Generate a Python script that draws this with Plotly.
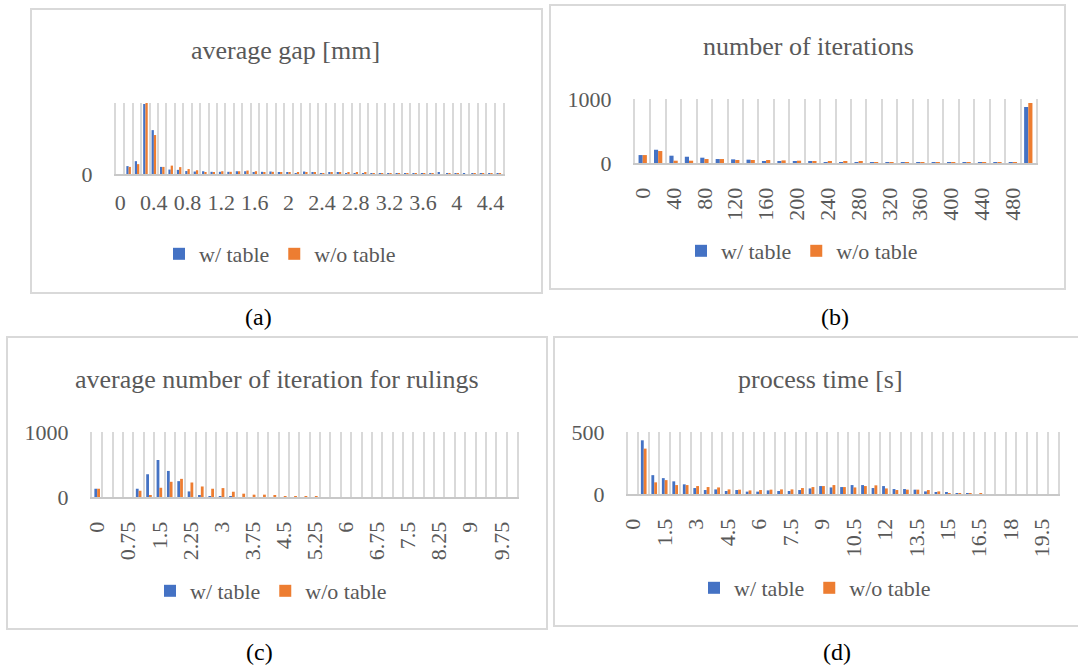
import plotly.graph_objects as go

W, H = 1078, 665
BLUE = "#4472C4"
ORANGE = "#ED7D31"
GRID = "#d9d9d9"
AXIS = "#c8c8c8"
TXT = "#595959"
FONT = "Liberation Serif"

# ---------------- data ----------------
gap_cats = ["0", "0.1", "0.2", "0.3", "0.4", "0.5", "0.6", "0.7", "0.8", "0.9",
            "1", "1.1", "1.2", "1.3", "1.4", "1.5", "1.6", "1.7", "1.8", "1.9",
            "2", "2.1", "2.2", "2.3", "2.4", "2.5", "2.6", "2.7", "2.8", "2.9",
            "3", "3.1", "3.2", "3.3", "3.4", "3.5", "3.6", "3.7", "3.8", "3.9",
            "4", "4.1", "4.2", "4.3", "4.4", "4.5"]
gap_with = [0, 80, 130, 710, 445, 72, 45, 42, 30, 25, 28, 22, 22, 22, 28, 28,
            18, 22, 25, 20, 15, 10, 25, 12, 5, 12, 12, 5, 8, 5, 5, 2, 5, 8, 8,
            5, 5, 5, 12, 2, 2, 5, 2, 5, 2, 2]
gap_without = [0, 72, 100, 720, 395, 72, 85, 70, 50, 38, 20, 20, 28, 22, 28, 35,
               28, 20, 22, 15, 12, 20, 18, 12, 5, 12, 12, 18, 12, 12, 5, 5, 5, 5,
               2, 5, 5, 2, 0, 2, 2, 0, 2, 5, 2, 2]

iter_cats = ["0", "20", "40", "60", "80", "100", "120", "140", "160", "180",
             "200", "220", "240", "260", "280", "300", "320", "340", "360", "380",
             "400", "420", "440", "460", "480", "500"]
iter_with = [124, 207, 114, 98, 83, 62, 57, 52, 21, 31, 21, 21, 5, 5, 5, 5, 5, 5,
             5, 2, 2, 2, 2, 1, 1, 875]
iter_without = [124, 187, 36, 36, 62, 62, 47, 47, 47, 41, 36, 21, 21, 21, 21, 5, 5,
                5, 5, 2, 5, 2, 2, 1, 1, 938]

rul_cats = ["0", "0.25", "0.5", "0.75", "1", "1.25", "1.5", "1.75", "2", "2.25",
            "2.5", "2.75", "3", "3.25", "3.5", "3.75", "4", "4.25", "4.5", "4.75",
            "5", "5.25", "5.5", "5.75", "6", "6.25", "6.5", "6.75", "7", "7.25",
            "7.5", "7.75", "8", "8.25", "8.5", "8.75", "9", "9.25", "9.5", "9.75", "10"]
rul_with = [127, 0, 0, 0, 127, 350, 569, 401, 244, 86, 20, 15, 5, 5, 0, 0, 0, 0, 0,
            0, 0, 0, 0, 0, 0, 0, 0, 0, 0, 0, 0, 0, 0, 0, 0, 0, 0, 0, 0, 0, 0]
rul_without = [127, 0, 0, 0, 96, 30, 142, 234, 279, 223, 162, 127, 137, 81, 51, 36,
               36, 25, 5, 5, 3, 3, 0, 0, 0, 0, 0, 0, 0, 0, 0, 0, 0, 0, 0, 0, 0, 0,
               0, 0, 0]

time_cats = ["0", "0.5", "1", "1.5", "2", "2.5", "3", "3.5", "4", "4.5", "5", "5.5",
             "6", "6.5", "7", "7.5", "8", "8.5", "9", "9.5", "10", "10.5", "11",
             "11.5", "12", "12.5", "13", "13.5", "14", "14.5", "15", "15.5", "16",
             "16.5", "17", "17.5", "18", "18.5", "19", "19.5", "20"]
time_with = [0, 433, 152, 128, 102, 78, 48, 32, 37, 24, 32, 19, 19, 29, 24, 24, 32,
             45, 64, 53, 56, 72, 72, 48, 64, 40, 40, 35, 21, 13, 13, 5, 8, 0, 0, 0,
             0, 0, 0, 0, 0]
time_without = [0, 366, 94, 112, 72, 72, 64, 56, 53, 37, 35, 29, 32, 35, 37, 37, 48,
                56, 64, 72, 56, 53, 64, 70, 45, 32, 35, 35, 32, 21, 5, 8, 5, 8, 0, 0,
                0, 0, 0, 0, 0]

series_names = ["w/ table", "w/o table"]
titles = ["average gap [mm]", "number of iterations",
          "average number of iteration for rulings", "process time [s]"]
captions = ["(a)", "(b)", "(c)", "(d)"]

# ---------------- layout geometry (pixels) ----------------
panels = [
    dict(cats=gap_cats, w=gap_with, wo=gap_without, step=4, angle=0,
         plot=(116, 103, 503, 174), ymax=720, yt=[0], hgrid=False,
         tpos=(285, 50), leg=(280, 254), box=(31, 9, 542, 293), cpos=(258, 317)),
    dict(cats=iter_cats, w=iter_with, wo=iter_without, step=2, angle=-90,
         plot=(635, 99, 1036, 163), ymax=1000, yt=[0, 1000], hgrid=True,
         tpos=(808, 46), leg=(802, 251), box=(550, 5, 1065, 289), cpos=(835, 317)),
    dict(cats=rul_cats, w=rul_with, wo=rul_without, step=3, angle=-90,
         plot=(92, 432, 517, 497), ymax=1000, yt=[0, 1000], hgrid=True,
         tpos=(277, 379), leg=(271, 591), box=(7, 337, 547, 629), cpos=(259, 652)),
    dict(cats=time_cats, w=time_with, wo=time_without, step=3, angle=-90,
         plot=(628, 432, 1058, 494), ymax=500, yt=[0, 500], hgrid=True,
         tpos=(820, 379), leg=(815, 588), box=(554, 337, 1082, 626), cpos=(837, 652)),
]


def fx(x):
    return x / W


def fy(y):
    return 1 - y / H


fig = go.Figure()
layout = {}
annotations = []
shapes = []

for k, p in enumerate(panels):
    n = k + 1
    xa = "x" if n == 1 else f"x{n}"
    ya = "y" if n == 1 else f"y{n}"
    lg = "legend" if n == 1 else f"legend{n}"
    idx = list(range(len(p["cats"])))
    for vals, name, col in [(p["w"], series_names[0], BLUE),
                            (p["wo"], series_names[1], ORANGE)]:
        fig.add_trace(go.Bar(x=idx, y=vals, name=name, marker_color=col,
                             marker_line_width=0, xaxis=xa, yaxis=ya, legend=lg,
                             hoverinfo="skip"))
    x0, y0, x1, y1 = p["plot"]
    xkey = "xaxis" if n == 1 else f"xaxis{n}"
    ykey = "yaxis" if n == 1 else f"yaxis{n}"
    layout[xkey] = dict(
        domain=[fx(x0), fx(x1)], anchor=ya, range=[-0.5, len(idx) - 0.5],
        tickmode="array", tickvals=idx[::p["step"]], ticktext=p["cats"][::p["step"]],
        tickangle=p["angle"], showgrid=False, zeroline=False, automargin=False,
        showline=True, linecolor=AXIS, linewidth=2,
        ticks="outside", ticklen=14 if p["angle"] else 8,
        tickcolor="rgba(0,0,0,0)",
        minor=dict(tickmode="linear", tick0=-0.5, dtick=1, showgrid=True,
                   gridcolor=GRID, gridwidth=2, ticks=""),
        tickfont=dict(size=22, color=TXT, family=FONT), fixedrange=True)
    layout[ykey] = dict(
        domain=[fy(y1), fy(y0)], anchor=xa, range=[0, p["ymax"]], automargin=False,
        tickmode="array", tickvals=p["yt"], showgrid=p["hgrid"], gridcolor=GRID,
        gridwidth=2, zeroline=False, showline=True, mirror=True, linecolor=GRID,
        linewidth=2, ticks="outside", ticklen=17, tickcolor="rgba(0,0,0,0)",
        tickfont=dict(size=22, color=TXT, family=FONT), fixedrange=True)
    layout[lg] = dict(orientation="h", x=fx(p["leg"][0]), y=fy(p["leg"][1]),
                      xanchor="center", yanchor="middle", itemwidth=30,
                      font=dict(size=22, color=TXT, family=FONT),
                      bgcolor="rgba(0,0,0,0)", traceorder="normal")
    annotations.append(dict(text=titles[k], x=fx(p["tpos"][0]), y=fy(p["tpos"][1]),
                            xref="paper", yref="paper", xanchor="center",
                            yanchor="middle", showarrow=False,
                            font=dict(size=26, color=TXT, family=FONT)))
    annotations.append(dict(text=captions[k], x=fx(p["cpos"][0]), y=fy(p["cpos"][1]),
                            xref="paper", yref="paper", xanchor="center",
                            yanchor="middle", showarrow=False,
                            font=dict(size=24, color="#000000", family=FONT)))
    bx0, by0, bx1, by1 = p["box"]
    shapes.append(dict(type="rect", xref="paper", yref="paper",
                       x0=fx(bx0), x1=fx(bx1), y0=fy(by1), y1=fy(by0),
                       line=dict(color=GRID, width=2), layer="below"))

fig.update_layout(
    width=W, height=H,
    margin=dict(l=0, r=0, t=0, b=0, pad=0, autoexpand=False),
    paper_bgcolor="white", plot_bgcolor="white",
    font=dict(family=FONT, color=TXT),
    barmode="group", bargap=0.46, bargroupgap=0,
    annotations=annotations, shapes=shapes, showlegend=True,
    **layout)

fig.write_html("out.html", config={"displayModeBar": False},
               post_script="document.body.style.margin='0px';")
